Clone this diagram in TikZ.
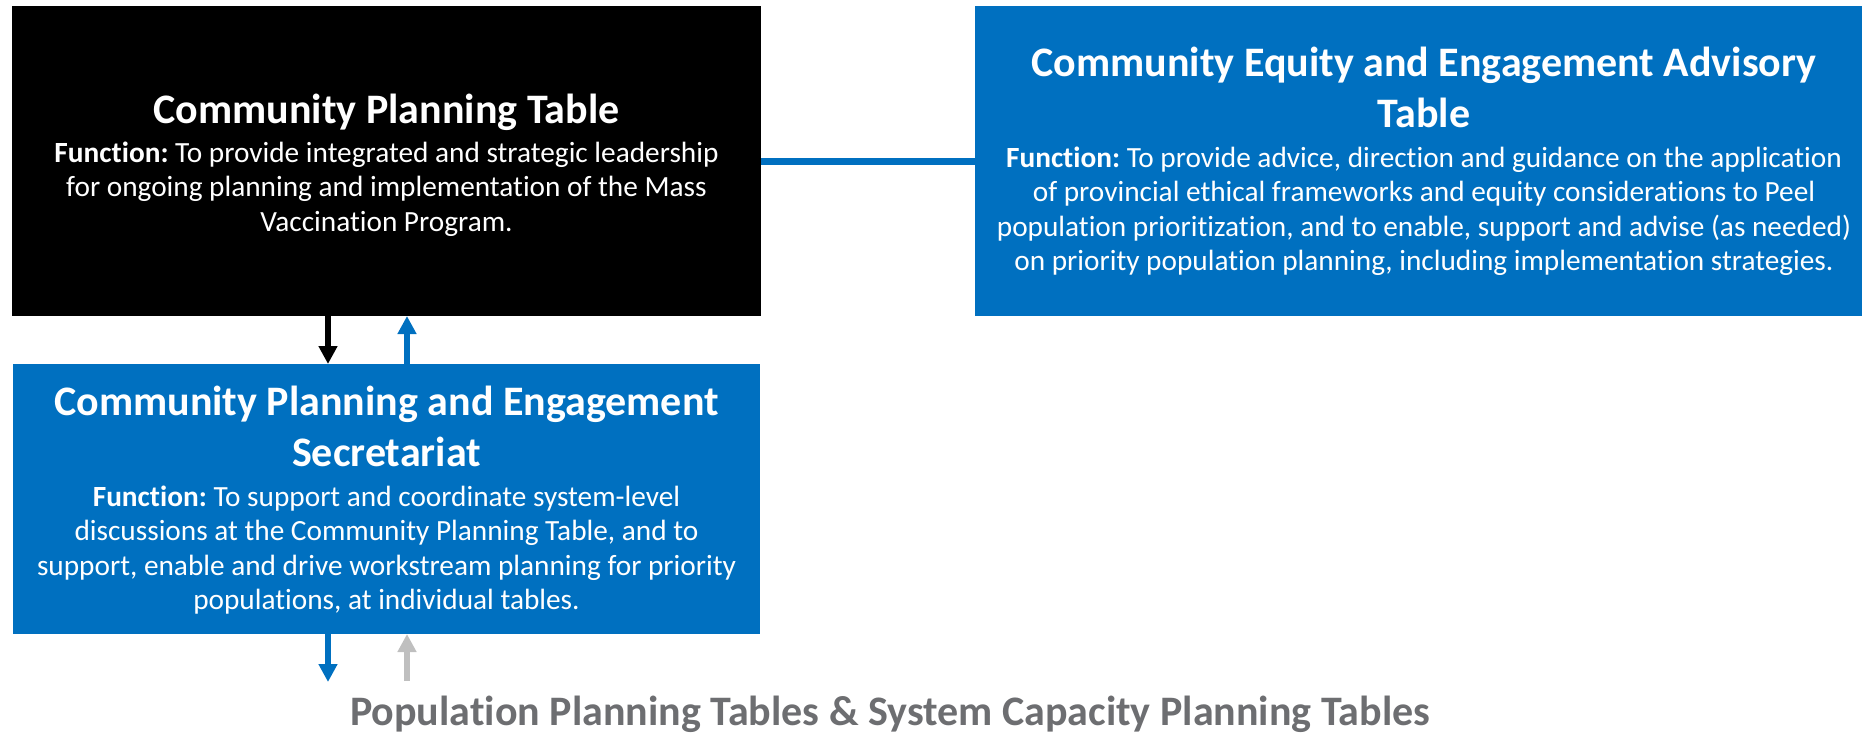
\documentclass[tikz,border=0pt]{standalone}
\usepackage{fontspec}
\setmainfont{Carlito}[Ligatures=NoCommon]
\usetikzlibrary{arrows.meta}
\frenchspacing
\definecolor{pblue}{HTML}{0070C0}
\definecolor{ptext}{HTML}{6D6E71}
\definecolor{parrow}{HTML}{BFBFBF}
\newcommand\mytitlefont{\fontsize{42}{51}\selectfont\bfseries\spaceskip=0.226em plus 0.1em\relax\xspaceskip=\spaceskip}
\newcommand\mybodyfont{\fontsize{29.3}{34.5}\selectfont\spaceskip=0.226em plus 0.1em\relax\xspaceskip=\spaceskip}
\tikzset{
  boxnode/.style={rectangle, inner sep=0pt, outer sep=0pt, draw=none},
  boxtext/.style={anchor=base, inner sep=0pt, text=white},
  conn/.style={line width=5.5pt, -{Triangle[width=18pt,length=18pt]}},
}
\begin{document}
\begin{tikzpicture}[x={(1pt,0pt)}, y={(0pt,-1pt)}]
\useasboundingbox (0,0) rectangle (1867,734);
% boxes
\node[boxnode, fill=black, minimum width=749pt, minimum height=310pt] (cpt) at (386.5,161) {};
\node[boxnode, fill=pblue, minimum width=887pt, minimum height=310pt] (ce) at (1418.5,161) {};
\node[boxnode, fill=pblue, minimum width=747pt, minimum height=270pt] (sec) at (386.5,499) {};
% texts
\node[boxtext, text width=745pt] (cptText) at (386.5,123) {\centering{\mytitlefont Community Planning Table\par}\vspace{4.5pt}{\mybodyfont\textbf{Function:} To provide integrated and strategic leadership\\ for ongoing planning and implementation of the Mass\\ Vaccination Program.\par}};
\node[boxtext, text width=880pt] (ceText) at (1424,76) {\centering{\mytitlefont Community Equity and Engagement Advisory\\ Table\par}\vspace{5.5pt}{\mybodyfont\textbf{Function:} To provide advice, direction and guidance on the application\\ of provincial ethical frameworks and equity considerations to Peel\\ population prioritization, and to enable, support and advise (as needed)\\ on priority population planning, including implementation strategies.\par}};
\node[boxtext, text width=745pt] (secText) at (386.5,415) {\centering{\mytitlefont Community Planning and Engagement\\ Secretariat\par}\vspace{5.5pt}{\mybodyfont\textbf{Function:} To support and coordinate system-level\\ discussions at the Community Planning Table, and to\\ support, enable and drive workstream planning for priority\\ populations, at individual tables.\par}};
\node[anchor=base, inner sep=0pt, text=ptext, font=\mytitlefont] (ppt) at (890,725) {Population Planning Tables \& System Capacity Planning Tables};
% connectors
\draw[pblue, line width=7pt] (cpt) -- (ce);
\draw[conn, black] ([xshift=-58.5pt]cpt.south) -- ([xshift=-58.5pt]sec.north);
\draw[conn, pblue] ([xshift=20.5pt]sec.north) -- ([xshift=20.5pt]cpt.south);
\coordinate (downEnd) at (328,682);
\coordinate (upStart) at (407,681);
\draw[conn, pblue] ([xshift=-58.5pt]sec.south) -- (downEnd);
\draw[conn, parrow] (upStart) -- ([xshift=20.5pt]sec.south);
\end{tikzpicture}
\end{document}
